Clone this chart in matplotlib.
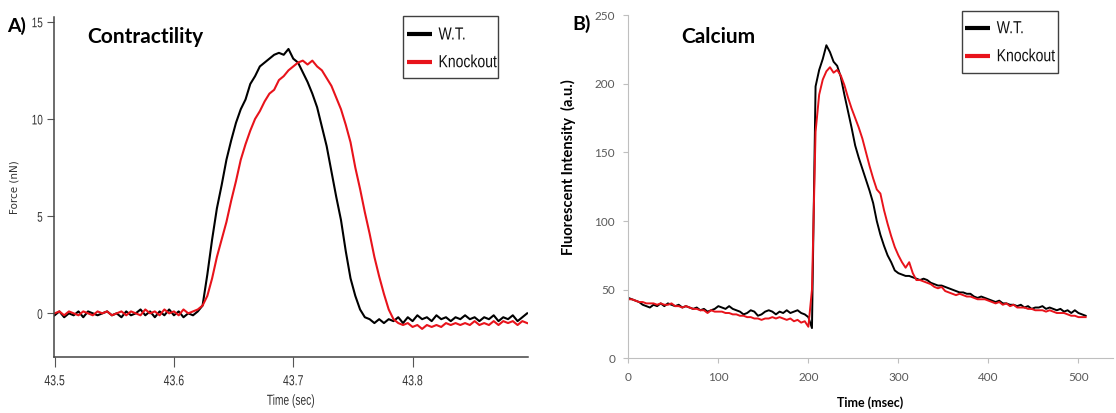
import numpy as np
import matplotlib
matplotlib.use("Agg")
import matplotlib.pyplot as plt
from matplotlib.patheffects import AbstractPathEffect
from matplotlib.transforms import Affine2D
from matplotlib.patches import Rectangle
from matplotlib.lines import Line2D

# ---- A) Contractility, sampled every 4 ms from 43.500 s ----
t0_a = 43.5
dt_a = 0.004
force_wt = [
    -0.1, 0.1, -0.2, 0.0, -0.1, 0.1, -0.2, 0.1, 0.0, -0.1,
    0.0, 0.1, -0.1, 0.0, -0.2, 0.1, -0.1, 0.0, 0.2, -0.1,
    0.1, -0.2, 0.1, -0.1, 0.2, -0.1, 0.1, -0.2, 0.0, -0.1,
    0.1, 0.4, 2.0, 3.8, 5.4, 6.6, 7.9, 8.9, 9.8, 10.5,
    11.0, 11.8, 12.2, 12.7, 12.9, 13.1, 13.3, 13.4, 13.3, 13.6,
    13.1, 12.9, 12.4, 11.9, 11.3, 10.6, 9.6, 8.6, 7.3, 6.0,
    4.8, 3.2, 1.8, 0.9, 0.2, -0.2, -0.3, -0.5, -0.3, -0.5,
    -0.3, -0.4, -0.2, -0.5, -0.2, -0.4, -0.1, -0.3, -0.2, -0.4,
    -0.1, -0.3, -0.2, -0.4, -0.2, -0.3, -0.1, -0.3, -0.2, -0.4,
    -0.2, -0.3, -0.1, -0.4, -0.2, -0.3, -0.1, -0.4, -0.2, 0.0,
]
force_ko = [
    0.0, 0.1, -0.1, 0.1, 0.0, -0.1, 0.1, 0.0, -0.1, 0.1,
    0.0, 0.1, -0.1, 0.0, 0.1, -0.1, 0.1, 0.0, -0.1, 0.2,
    0.0, 0.1, -0.1, 0.2, 0.0, 0.1, -0.1, 0.2, 0.0, 0.1,
    0.2, 0.4, 0.9, 1.8, 2.9, 3.8, 4.7, 5.8, 6.8, 7.9,
    8.7, 9.4, 10.0, 10.4, 10.9, 11.3, 11.5, 12.0, 12.2, 12.5,
    12.7, 12.9, 13.0, 12.8, 13.0, 12.7, 12.5, 12.1, 11.7, 11.1,
    10.5, 9.7, 8.8, 7.5, 6.4, 5.2, 4.1, 2.9, 1.9, 1.0,
    0.2, -0.3, -0.5, -0.6, -0.5, -0.7, -0.6, -0.8, -0.6, -0.7,
    -0.6, -0.7, -0.5, -0.6, -0.5, -0.6, -0.5, -0.6, -0.4, -0.6,
    -0.5, -0.6, -0.4, -0.6, -0.4, -0.5, -0.4, -0.6, -0.4, -0.5,
]
a_xticks = [43.5, 43.6, 43.7, 43.8]
a_xticklabels = ["43.5", "43.6", "43.7", "43.8"]
a_yticks = [0, 5, 10, 15]

# ---- B) Calcium, sampled every 4 ms from 0 ----
dt_b = 4
ca_wt = [
    44, 43, 42, 41, 39, 38, 37, 39, 38, 40,
    38, 40, 39, 38, 39, 37, 38, 37, 36, 37,
    35, 36, 34, 35, 36, 38, 37, 36, 38, 36,
    35, 34, 32, 33, 35, 34, 31, 32, 34, 35,
    34, 32, 34, 33, 35, 33, 34, 35, 33, 32,
    30, 22, 198, 210, 218, 228, 223, 216, 213, 205,
    192, 180, 168, 155, 146, 138, 130, 122, 113, 100,
    90, 82, 75, 70, 64, 62, 61, 60, 60, 59,
    58, 57, 58, 57, 55, 54, 53, 53, 52, 51,
    50, 49, 48, 48, 47, 47, 45, 44, 45, 44,
    43, 42, 41, 42, 40, 40, 39, 39, 38, 39,
    37, 38, 36, 37, 37, 38, 36, 37, 36, 35,
    36, 34, 35, 33, 35, 33, 32, 31,
]
ca_ko = [
    43, 43, 42, 41, 41, 40, 40, 40, 39, 40,
    39, 39, 40, 38, 38, 37, 38, 37, 36, 36,
    35, 35, 33, 35, 34, 34, 34, 33, 33, 32,
    32, 31, 31, 30, 30, 29, 29, 28, 29, 29,
    30, 29, 30, 29, 28, 29, 27, 28, 26, 27,
    23, 50, 165, 192, 203, 209, 212, 208, 210, 206,
    199, 190, 182, 175, 168, 160, 150, 140, 131, 123,
    120, 108, 98, 89, 81, 75, 70, 66, 70, 62,
    57, 57, 56, 55, 54, 52, 51, 52, 49, 48,
    47, 46, 47, 46, 45, 45, 44, 43, 43, 43,
    42, 41, 40, 41, 39, 40, 38, 39, 37, 37,
    37, 36, 36, 35, 35, 35, 34, 35, 34, 33,
    33, 33, 32, 31, 31, 30, 30, 30,
]
b_xticks = [0, 100, 200, 300, 400, 500]
b_yticks = [0, 50, 100, 150, 200, 250]

labels = ["W.T.", "Knockout"]
colors = ["black", "#e8131b"]

W, H = 1116, 413


# 窄字体: 把文字路径横向压缩
class Squeeze(AbstractPathEffect):
    def __init__(self, sx, anchor="left"):
        super().__init__()
        self.sx = sx
        self.anchor = anchor

    def draw_path(self, renderer, gc, tpath, affine, rgbFace=None):
        ext = tpath.get_extents()
        if self.anchor == "center":
            cx = (ext.x0 + ext.x1) / 2
        elif self.anchor == "right":
            cx = ext.x1
        else:
            cx = 0
        t = Affine2D().translate(-cx, 0).scale(self.sx, 1).translate(cx, 0) + affine
        renderer.draw_path(gc, tpath, t, rgbFace)


def fx(px):
    return px / W


def fy(py):
    return 1 - py / H


def box_legend(x0, y0, x1, y1, rows_y, line_x, text_x):
    fig.add_artist(Rectangle((fx(x0), fy(y1)), fx(x1) - fx(x0), fy(y0) - fy(y1),
                             transform=fig.transFigure, fill=False,
                             edgecolor="#404040", lw=1.0))
    for lab, c, ry in zip(labels, colors, rows_y):
        fig.add_artist(Line2D([fx(line_x[0]), fx(line_x[1])], [fy(ry), fy(ry)],
                              transform=fig.transFigure, color=c, lw=3,
                              solid_capstyle="butt"))
        tx = fig.text(fx(text_x), fy(ry + 1), lab, family="Liberation Sans",
                      fontsize=12.6, va="center", ha="left", color="#111111")
        tx.set_path_effects([Squeeze(0.8, "left")])


fig = plt.figure(figsize=(W / 100, H / 100), dpi=100)

# ================= A =================
axA = fig.add_axes([0.0484, 0.1349, 0.425, 0.8247])
ta = t0_a + dt_a * np.arange(len(force_wt))
tk = t0_a + dt_a * np.arange(len(force_ko))
axA.plot(ta, force_wt, color=colors[0], lw=1.5)
axA.plot(tk, force_ko, color=colors[1], lw=1.5)
axA.set_xlim(43.4995, 43.897)
axA.set_ylim(-2.26, 15.26)
axA.set_xticks(a_xticks)
axA.set_xticklabels(a_xticklabels)
axA.set_yticks(a_yticks)
for s in ["top", "right"]:
    axA.spines[s].set_visible(False)
for s in ["left", "bottom"]:
    axA.spines[s].set_color("#444444")
    axA.spines[s].set_linewidth(1.1)
axA.tick_params(axis="x", direction="out", length=7.2, pad=5, colors="#555555",
                labelcolor="#333333")
axA.tick_params(axis="y", direction="out", length=5, pad=3, colors="#555555",
                labelcolor="#333333")
for lab in axA.get_xticklabels():
    lab.set_family("Liberation Sans")
    lab.set_fontsize(10.5)
    lab.set_path_effects([Squeeze(0.72, "center")])
for lab in axA.get_yticklabels():
    lab.set_family("Liberation Sans")
    lab.set_fontsize(10)
    lab.set_path_effects([Squeeze(0.72, "right")])
xl = axA.set_xlabel("Time (sec)", family="Liberation Sans", fontsize=10.5, color="#333333",
                    labelpad=4)
xl.set_path_effects([Squeeze(0.7, "center")])
axA.set_ylabel("Force (nN)", fontsize=7.5, color="#333333")
axA.yaxis.set_label_coords(-0.072, 0.5)
box_legend(402.5, 15.7, 497.5, 78.3, [34, 61.7], (406.7, 432.3), 438.5)
fig.text(fx(7), fy(31.7), "A)", fontsize=14, fontweight="bold", family="Lato")
fig.text(fx(87.5), fy(43.3), "Contractility", fontsize=15, fontweight="bold", family="Lato")

# ================= B =================
axB = fig.add_axes([0.563, 0.1324, 0.434, 0.8312])
tb = dt_b * np.arange(len(ca_wt))
tc = dt_b * np.arange(len(ca_ko))
axB.plot(tb, ca_wt, color=colors[0], lw=1.4)
axB.plot(tc, ca_ko, color=colors[1], lw=1.4)
axB.set_xlim(0, 538)
axB.set_ylim(0, 250)
axB.set_xticks(b_xticks)
axB.set_yticks(b_yticks)
for s in ["top", "right"]:
    axB.spines[s].set_visible(False)
for s in ["left", "bottom"]:
    axB.spines[s].set_color("#bfbfbf")
axB.tick_params(direction="out", length=3.5, colors="#bfbfbf", labelcolor="#595959",
                labelsize=8.5, pad=6)
for lab in axB.get_xticklabels() + axB.get_yticklabels():
    lab.set_family("Lato")
axB.set_xlabel("Time (msec)", family="Lato", fontweight="bold", fontsize=9)
axB.xaxis.set_label_coords(0.5, -0.112)
axB.set_ylabel("Fluorescent Intensity  (a.u.)", family="Lato", fontweight="bold",
               fontsize=10.5)
axB.yaxis.set_label_coords(-0.108, 0.557)
box_legend(962, 10.7, 1057.5, 72.7, [27.7, 55.7], (965, 990), 996.7)
fig.text(fx(572.5), fy(30), "B)", fontsize=14, fontweight="bold", family="Lato")
fig.text(fx(681), fy(42.7), "Calcium", fontsize=15, fontweight="bold", family="Lato")

fig.savefig("out.png", dpi=100)
